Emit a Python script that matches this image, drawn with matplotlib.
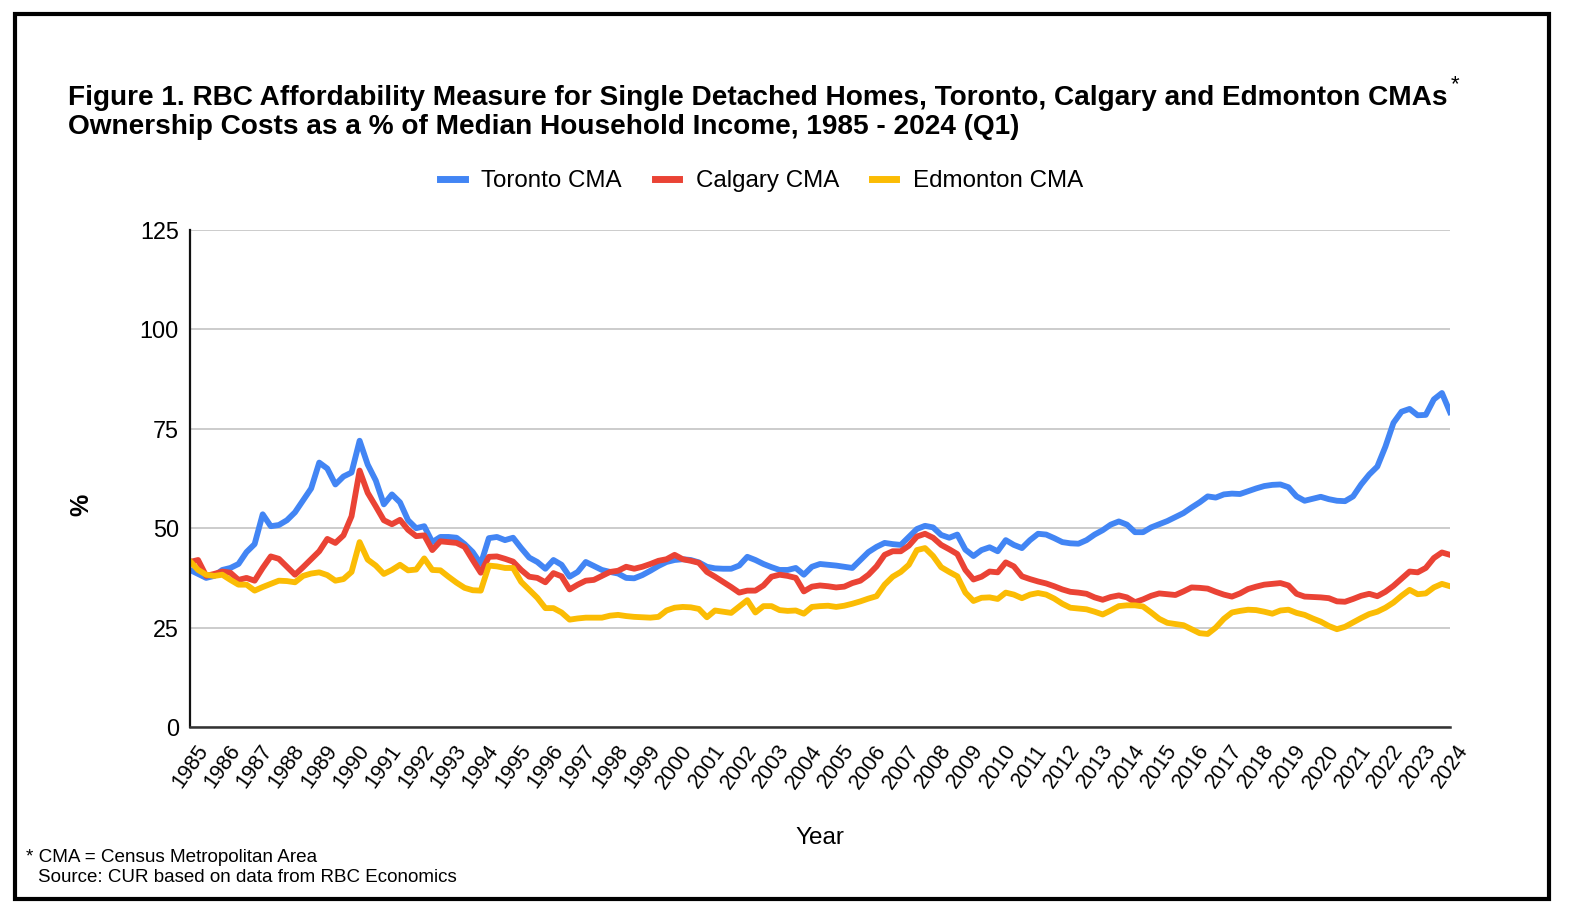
import numpy as np
import matplotlib
matplotlib.use("Agg")
import matplotlib.pyplot as plt
from matplotlib.patches import Rectangle

plt.rcParams['font.family'] = ['Liberation Sans', 'DejaVu Sans']

# quarterly values, 1985 Q1 .. 2024 Q1
toronto = [
    39.5, 38.5, 37.5, 38.0, 39.5, 40.0, 41.0, 44.0, 46.0, 53.5,
    50.5, 50.8, 52.0, 54.0, 57.0, 60.0, 66.5, 65.0, 61.0, 63.0,
    64.0, 72.0, 66.0, 62.0, 56.0, 58.5, 56.5, 52.0, 50.0, 50.5,
    46.5, 47.8, 47.8, 47.6, 46.0, 44.0, 41.0, 47.5, 47.8, 47.0,
    47.6, 45.0, 42.6, 41.5, 39.8, 42.0, 40.8, 37.8, 39.0, 41.5,
    40.5, 39.5, 39.0, 38.6, 37.5, 37.4, 38.2, 39.3, 40.5, 41.5,
    42.0, 42.2, 42.0, 41.4, 40.3, 39.9, 39.8, 39.8, 40.6, 42.8,
    42.0, 41.0, 40.2, 39.5, 39.5, 40.0, 38.3, 40.3, 41.0, 40.8,
    40.6, 40.3, 40.0, 42.0, 44.0, 45.3, 46.3, 46.0, 45.8, 47.8,
    49.8, 50.6, 50.2, 48.3, 47.6, 48.4, 44.6, 43.0, 44.5, 45.2,
    44.2, 47.0, 45.8, 45.0, 47.0, 48.6, 48.4, 47.5, 46.5, 46.2,
    46.1, 47.0, 48.4, 49.5, 50.9, 51.7, 50.9, 49.0, 49.0, 50.2,
    51.0, 51.8, 52.8, 53.8, 55.2, 56.5, 58.0, 57.7, 58.5, 58.7,
    58.6, 59.3, 60.0, 60.6, 60.9, 61.0, 60.3, 58.0, 56.9, 57.4,
    57.9, 57.3, 56.9, 56.8, 58.0, 61.0, 63.5, 65.5, 70.5, 76.5,
    79.3, 80.0, 78.4, 78.5, 82.4, 84.0, 79.2,
]
calgary = [
    41.5, 42.0, 38.0, 38.5, 39.1, 38.8, 37.0, 37.5, 36.8, 40.0,
    42.9, 42.3, 40.3, 38.3, 40.2, 42.2, 44.2, 47.3, 46.3, 48.2,
    53.0, 64.5, 58.9, 55.5, 52.0, 51.0, 52.1, 49.6, 48.0, 48.2,
    44.5, 46.7, 46.5, 46.3, 45.3, 42.0, 38.8, 42.8, 42.9, 42.3,
    41.6, 39.5, 37.8, 37.5, 36.4, 38.7, 37.9, 34.6, 35.8, 36.8,
    37.0, 38.0, 39.0, 39.3, 40.3, 39.8, 40.3, 41.0, 41.8, 42.2,
    43.3, 42.2, 41.8, 41.3, 39.0, 37.8, 36.5, 35.2, 33.8, 34.3,
    34.3, 35.6, 37.8, 38.3, 38.0, 37.5, 34.1, 35.3, 35.6, 35.4,
    35.1, 35.3, 36.2, 36.8, 38.3, 40.4, 43.3, 44.2, 44.2, 45.6,
    47.9, 48.6, 47.6, 45.8, 44.7, 43.5, 39.5, 37.1, 37.8, 39.1,
    38.9, 41.4, 40.4, 37.9, 37.2, 36.6, 36.1, 35.4, 34.6, 34.0,
    33.8, 33.5, 32.6, 32.0, 32.7, 33.1, 32.6, 31.4, 32.1, 33.0,
    33.6, 33.4, 33.2, 34.1, 35.1, 35.0, 34.8, 34.0, 33.3, 32.8,
    33.6, 34.7, 35.3, 35.8, 36.0, 36.2, 35.6, 33.5, 32.8, 32.7,
    32.6, 32.4, 31.6, 31.5, 32.2, 33.0, 33.5, 32.9, 34.0, 35.5,
    37.3, 39.1, 38.9, 40.0, 42.5, 43.9, 43.3,
]
edmonton = [
    41.7, 39.5, 38.3, 38.0, 38.3, 37.0, 35.8, 35.8, 34.3, 35.2,
    36.0, 36.8, 36.7, 36.4, 38.0, 38.6, 38.9, 38.2, 36.8, 37.2,
    39.0, 46.5, 42.1, 40.6, 38.5, 39.5, 40.8, 39.4, 39.6, 42.4,
    39.5, 39.4, 37.8, 36.3, 35.0, 34.4, 34.3, 40.6, 40.4, 40.0,
    40.0, 36.5, 34.5, 32.5, 29.9, 29.9, 28.8, 27.0, 27.3, 27.5,
    27.5, 27.5, 28.0, 28.2, 27.9, 27.7, 27.6, 27.5, 27.7, 29.3,
    30.0, 30.2, 30.1, 29.7, 27.6, 29.3, 29.0, 28.7, 30.3, 31.9,
    28.8, 30.4, 30.4, 29.4, 29.2, 29.3, 28.5, 30.2, 30.4, 30.5,
    30.2, 30.5, 31.0, 31.6, 32.3, 32.9, 35.8, 37.8, 39.0, 40.8,
    44.5, 45.0, 43.0, 40.2, 39.0, 37.9, 33.8, 31.7, 32.5, 32.6,
    32.2, 33.8, 33.3, 32.4, 33.3, 33.7, 33.3, 32.3, 31.0, 30.0,
    29.8, 29.6, 29.0, 28.3, 29.3, 30.4, 30.6, 30.6, 30.3, 28.8,
    27.2, 26.2, 25.9, 25.6, 24.6, 23.6, 23.4, 25.0, 27.2, 28.8,
    29.2, 29.5, 29.4, 29.0, 28.5, 29.3, 29.5, 28.7, 28.2, 27.3,
    26.5, 25.4, 24.6, 25.2, 26.3, 27.4, 28.4, 29.0, 30.0, 31.3,
    33.0, 34.5, 33.4, 33.6, 35.1, 36.0, 35.4,
]
series_names = ["Toronto CMA", "Calgary CMA", "Edmonton CMA"]
colors = ["#4285F4", "#EA4335", "#FBBC04"]
years = list(range(1985, 2025))
y_ticks = [0, 25, 50, 75, 100, 125]

quarters = np.array([1985 + i / 4 for i in range(len(toronto))])

fig = plt.figure(figsize=(15.7, 9.09), dpi=100)
ax = fig.add_axes([190 / 1570, 1 - 727 / 909, 1260 / 1570, 497 / 909])

for vals, name, col in zip([toronto, calgary, edmonton], series_names, colors):
    ax.plot(quarters, vals, color=col, lw=4.2, label=name)

ax.set_xlim(1985, 2024)
ax.set_ylim(0, 125)
ax.set_yticks(y_ticks)
ax.set_xticks(years)
ax.set_xticklabels([str(y) for y in years], rotation=55, ha='center', va='top',
                   fontsize=15.5)
ax.tick_params(axis='y', labelsize=16.8, length=0, pad=8)
ax.tick_params(axis='x', length=0, pad=10)
ax.grid(axis='y', color='#c8c8c8', lw=1.3)
ax.set_axisbelow(True)
for s in ['top', 'right']:
    ax.spines[s].set_visible(False)
ax.spines['left'].set_color('#111111')
ax.spines['bottom'].set_color('#333333')
ax.spines['left'].set_linewidth(1.6)
ax.spines['bottom'].set_linewidth(1.8)

fig.text(820 / 1570, 1 - 838 / 909, "Year", fontsize=17.5, ha='center', va='center')
fig.text(81 / 1570, 1 - 505 / 909, "%", fontsize=18, fontweight='bold',
         rotation=90, ha='center', va='center')

fig.text(68 / 1570, 1 - 98 / 909,
         "Figure 1. RBC Affordability Measure for Single Detached Homes, Toronto, Calgary and Edmonton CMAs",
         fontsize=20.2, fontweight='bold', ha='left', va='center')
fig.text(68 / 1570, 1 - 127 / 909,
         "Ownership Costs as a % of Median Household Income, 1985 - 2024 (Q1)",
         fontsize=20.2, fontweight='bold', ha='left', va='center')
fig.text(1451 / 1570, 1 - 85 / 909, "*", fontsize=16, ha='left', va='center')

fig.legend(loc='center', bbox_to_anchor=(762 / 1570, 1 - 181 / 909), ncol=3,
           frameon=False, fontsize=17.4, handlelength=1.0, handleheight=0.6,
           columnspacing=1.36, handletextpad=0.7)
for line in fig.legends[0].get_lines():
    line.set_linewidth(5)

fig.text(26 / 1570, 1 - 857 / 909, "* CMA = Census Metropolitan Area", fontsize=13.6,
         ha='left', va='center')
fig.text(38 / 1570, 1 - 878 / 909, "Source: CUR based on data from RBC Economics",
         fontsize=13.5, ha='left', va='center')

fig.patches.append(Rectangle((15 / 1570, 10 / 909), 1534 / 1570, 885 / 909,
                             transform=fig.transFigure, fill=False,
                             edgecolor='black', lw=3))

fig.savefig("out.png", dpi=100)
